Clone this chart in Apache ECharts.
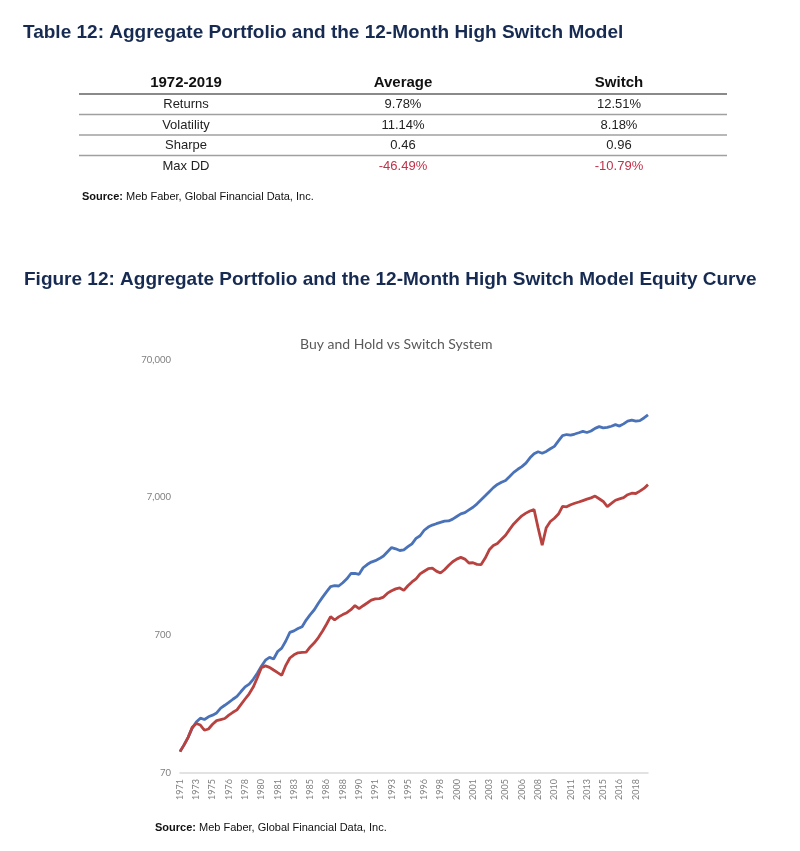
<!DOCTYPE html>
<html>
<head>
<meta charset="utf-8">
<script src="https://cdn.jsdelivr.net/npm/echarts@6/dist/echarts.min.js"></script>
<style>
  html, body { margin: 0; padding: 0; background: #fff; }
  #chart { width: 800px; height: 851px; }
</style>
</head>
<body>
<div id="chart"></div>
<script>
// ---------- Table data ----------
const tableHeader = ['1972-2019', 'Average', 'Switch'];
const tableRows = ['Returns', 'Volatility', 'Sharpe', 'Max DD'];
const averageStats = ['9.78%', '11.14%', '0.46', '-46.49%'];
const switchStats = ['12.51%', '8.18%', '0.96', '-10.79%'];

// ---------- Chart data (every 5 months from Dec 1971) ----------
const categories = [
  '1971-12','1972-05','1972-10','1973-03','1973-08','1974-01','1974-06','1974-11','1975-04','1975-09','1976-02','1976-07',
  '1976-12','1977-05','1977-10','1978-03','1978-08','1979-01','1979-06','1979-11','1980-04','1980-09','1981-02','1981-07',
  '1981-12','1982-05','1982-10','1983-03','1983-08','1984-01','1984-06','1984-11','1985-04','1985-09','1986-02','1986-07',
  '1986-12','1987-05','1987-10','1988-03','1988-08','1989-01','1989-06','1989-11','1990-04','1990-09','1991-02','1991-07',
  '1991-12','1992-05','1992-10','1993-03','1993-08','1994-01','1994-06','1994-11','1995-04','1995-09','1996-02','1996-07',
  '1996-12','1997-05','1997-10','1998-03','1998-08','1999-01','1999-06','1999-11','2000-04','2000-09','2001-02','2001-07',
  '2001-12','2002-05','2002-10','2003-03','2003-08','2004-01','2004-06','2004-11','2005-04','2005-09','2006-02','2006-07',
  '2006-12','2007-05','2007-10','2008-03','2008-08','2009-01','2009-06','2009-11','2010-04','2010-09','2011-02','2011-07',
  '2011-12','2012-05','2012-10','2013-03','2013-08','2014-01','2014-06','2014-11','2015-04','2015-09','2016-02','2016-07',
  '2016-12','2017-05','2017-10','2018-03','2018-08','2019-01','2019-06','2019-11'
];

const switchSystem = [
  100,112,127,148,164,175,171,179,184,191,
  207,217,228,240,252,273,295,309,335,371,
  416,461,483,470,533,564,635,733,752,782,
  806,901,986,1070,1194,1315,1441,1574,1600,1592,
  1680,1795,1961,1964,1935,2159,2277,2374,2430,2516,
  2628,2823,3023,2963,2880,2914,3068,3220,3523,3684,
  4038,4258,4402,4506,4605,4706,4721,4865,5080,5304,
  5420,5670,5931,6277,6720,7182,7690,8232,8682,9004,
  9278,9919,10620,11184,11697,12398,13540,14500,14990,14621,
  15065,15755,16398,17970,19629,19990,19800,20157,20598,21084,
  20667,21189,22162,22799,22311,22500,22951,23571,23028,23887,
  24984,25404,24984,25235,26351,27747
];

const buyAndHold = [
  100,112,127,150,160,156,143,146,158,168,
  171,174,184,193,201,220,241,263,294,344,
  406,419,409,391,374,358,423,478,504,521,
  525,527,575,616,672,748,840,955,902,950,
  987,1019,1071,1147,1089,1145,1198,1257,1283,1289,
  1322,1412,1470,1517,1540,1480,1597,1702,1792,1948,
  2037,2124,2145,2040,1977,2089,2240,2386,2495,2567,
  2495,2338,2346,2285,2277,2537,2914,3130,3241,3470,
  3715,4099,4491,4808,5139,5376,5576,5717,4202,3150,
  4216,4674,4938,5296,6020,5970,6183,6339,6478,6631,
  6788,6936,7147,6833,6532,6000,6319,6665,6822,6971,
  7315,7500,7462,7767,8124,8653
];

const yTickValues = [70, 700, 7000, 70000];

// ---------- Layout / style ----------
const NAVY = '#172b52';
const docFont = '"Liberation Sans", Arial, sans-serif';
const chartFont = 'Lato, "Open Sans", sans-serif';

const colX = [186, 403, 619];
const headerY = 83;
const rowY = [104.5, 125, 145.5, 166];
const lineY = [94, 114.5, 135, 155.5];

const graphics = [];
graphics.push({
  type: 'text', x: 23, y: 33,
  style: { text: 'Table 12: Aggregate Portfolio and the 12-Month High Switch Model',
    font: 'bold 19px ' + docFont, fill: NAVY, textAlign: 'left', textVerticalAlign: 'middle' }
});
tableHeader.forEach((h, i) => {
  graphics.push({ type: 'text', x: colX[i], y: headerY,
    style: { text: h, font: 'bold 15px ' + docFont, fill: '#111', textAlign: 'center', textVerticalAlign: 'middle' } });
});
lineY.forEach((ly, i) => {
  graphics.push({ type: 'line', shape: { x1: 79, y1: ly, x2: 727, y2: ly },
    style: { stroke: i === 0 ? '#8a8a8a' : '#a0a0a0', lineWidth: i === 0 ? 2 : 1.5 } });
});
tableRows.forEach((r, i) => {
  const isDD = r === 'Max DD';
  graphics.push({ type: 'text', x: colX[0], y: rowY[i],
    style: { text: r, font: '13px ' + docFont, fill: '#222', textAlign: 'center', textVerticalAlign: 'middle' } });
  graphics.push({ type: 'text', x: colX[1], y: rowY[i],
    style: { text: averageStats[i], font: '13px ' + docFont, fill: isDD ? '#c0314a' : '#222', textAlign: 'center', textVerticalAlign: 'middle' } });
  graphics.push({ type: 'text', x: colX[2], y: rowY[i],
    style: { text: switchStats[i], font: '13px ' + docFont, fill: isDD ? '#c0314a' : '#222', textAlign: 'center', textVerticalAlign: 'middle' } });
});
function sourceText(x, y) {
  return { type: 'text', x: x, y: y,
    style: { text: '{b|Source:} Meb Faber, Global Financial Data, Inc.',
      font: '11px ' + docFont, fill: '#111', textAlign: 'left', textVerticalAlign: 'middle',
      rich: { b: { fontWeight: 'bold', fontSize: 11, fontFamily: docFont, fill: '#111', color: '#111' } } } };
}
graphics.push(sourceText(82, 197));
graphics.push({
  type: 'text', x: 24, y: 280,
  style: { text: 'Figure 12: Aggregate Portfolio and the 12-Month High Switch Model Equity Curve',
    font: 'bold 19px ' + docFont, fill: NAVY, textAlign: 'left', textVerticalAlign: 'middle' }
});
graphics.push(sourceText(155, 828));

const chart = echarts.init(document.getElementById('chart'), null, { renderer: 'canvas' });
chart.setOption({
  backgroundColor: '#ffffff',
  animation: false,
  title: {
    text: 'Buy and Hold vs Switch System',
    left: 295, top: 332,
    textStyle: { fontFamily: chartFont, fontSize: 14, fontWeight: 'normal', color: '#595959' }
  },
  grid: { left: 180, right: 152, top: 359.5, bottom: 78, containLabel: false },
  xAxis: {
    type: 'category',
    data: categories,
    boundaryGap: false,
    axisLine: { lineStyle: { color: '#d9d9d9', width: 1.5 } },
    axisTick: { show: false },
    splitLine: { show: false },
    axisLabel: {
      interval: 3, rotate: 90, margin: 6,
      formatter: v => v.slice(0, 4),
      color: '#7f7f7f', fontSize: 9, fontFamily: chartFont
    }
  },
  yAxis: {
    type: 'log',
    logBase: 10,
    min: yTickValues[0],
    max: yTickValues[yTickValues.length - 1],
    interval: 1,
    axisLine: { show: false },
    axisTick: { show: false },
    splitLine: { show: false },
    axisLabel: {
      margin: 9,
      formatter: v => Number(Number(v).toPrecision(1)).toLocaleString('en-US'),
      color: '#7f7f7f', fontSize: 9.5, fontFamily: chartFont
    }
  },
  series: [
    { name: 'Switch System', type: 'line', data: switchSystem, showSymbol: false,
      lineStyle: { color: '#4a72b9', width: 2.8 }, itemStyle: { color: '#4a72b9' } },
    { name: 'Buy and Hold', type: 'line', data: buyAndHold, showSymbol: false,
      lineStyle: { color: '#b8423f', width: 2.8 }, itemStyle: { color: '#b8423f' } }
  ],
  graphic: graphics
});
</script>
</body>
</html>
